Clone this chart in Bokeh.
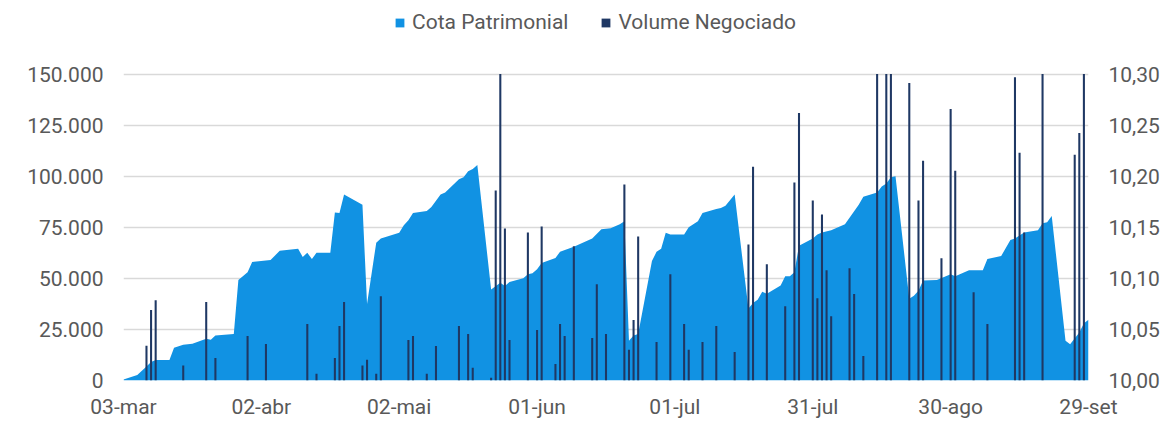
import pandas as pd
from bokeh.plotting import figure
from bokeh.models import Range1d, LinearAxis, FixedTicker, Legend, LegendItem
from bokeh.embed import file_html
from bokeh.resources import INLINE

# ---- data -------------------------------------------------------------
cota_dates = [
    "2020-03-03", "2020-03-06", "2020-03-08", "2020-03-09", "2020-03-10", "2020-03-13",
    "2020-03-14", "2020-03-16", "2020-03-18", "2020-03-21", "2020-03-22", "2020-03-23",
    "2020-03-27", "2020-03-28", "2020-03-30", "2020-03-31", "2020-04-04", "2020-04-06",
    "2020-04-10", "2020-04-11", "2020-04-12", "2020-04-13", "2020-04-14", "2020-04-17",
    "2020-04-18", "2020-04-19", "2020-04-20", "2020-04-24", "2020-04-25", "2020-04-27",
    "2020-04-28", "2020-05-02", "2020-05-03", "2020-05-04", "2020-05-05", "2020-05-08",
    "2020-05-09", "2020-05-11", "2020-05-12", "2020-05-15", "2020-05-16", "2020-05-17",
    "2020-05-18", "2020-05-19", "2020-05-22", "2020-05-24", "2020-05-25", "2020-05-26",
    "2020-05-29", "2020-05-30", "2020-05-31", "2020-06-01", "2020-06-02", "2020-06-05",
    "2020-06-06", "2020-06-09", "2020-06-13", "2020-06-15", "2020-06-16", "2020-06-17",
    "2020-06-19", "2020-06-20", "2020-06-21", "2020-06-22", "2020-06-23", "2020-06-26",
    "2020-06-27", "2020-06-28", "2020-06-29", "2020-06-30", "2020-07-03", "2020-07-04",
    "2020-07-05", "2020-07-06", "2020-07-07", "2020-07-10", "2020-07-11", "2020-07-12",
    "2020-07-14", "2020-07-17", "2020-07-18", "2020-07-19", "2020-07-20", "2020-07-21",
    "2020-07-24", "2020-07-25", "2020-07-26", "2020-07-27", "2020-07-28", "2020-07-31",
    "2020-08-01", "2020-08-02", "2020-08-04", "2020-08-07", "2020-08-10", "2020-08-11",
    "2020-08-14", "2020-08-15", "2020-08-16", "2020-08-17", "2020-08-18", "2020-08-21",
    "2020-08-22", "2020-08-23", "2020-08-24", "2020-08-27", "2020-08-30", "2020-08-31",
    "2020-09-03", "2020-09-06", "2020-09-07", "2020-09-10", "2020-09-12", "2020-09-13",
    "2020-09-15", "2020-09-18", "2020-09-19", "2020-09-20", "2020-09-21", "2020-09-24",
    "2020-09-25", "2020-09-27", "2020-09-28", "2020-09-29",
]
cota_values = [
    10.001, 10.0055, 10.0137, 10.018, 10.020, 10.020,
    10.032, 10.035, 10.036, 10.041, 10.040, 10.044,
    10.0455, 10.0985, 10.106, 10.116, 10.118, 10.127,
    10.129, 10.121, 10.125, 10.119, 10.125, 10.125,
    10.1645, 10.164, 10.182, 10.172, 10.0748, 10.135,
    10.139, 10.1446, 10.152, 10.157, 10.164, 10.166,
    10.170, 10.182, 10.184, 10.197, 10.199, 10.205,
    10.207, 10.211, 10.089, 10.0956, 10.0926, 10.0965,
    10.100, 10.104, 10.105, 10.109, 10.115, 10.120,
    10.126, 10.131, 10.139, 10.148, 10.1485, 10.149,
    10.153, 10.156, 10.039, 10.044, 10.0455, 10.117,
    10.126, 10.129, 10.1446, 10.143, 10.143, 10.150,
    10.153, 10.156, 10.164, 10.168, 10.169, 10.171,
    10.182, 10.0705, 10.076, 10.079, 10.087, 10.085,
    10.093, 10.102, 10.102, 10.106, 10.132, 10.139,
    10.143, 10.145, 10.147, 10.153, 10.172, 10.180,
    10.184, 10.190, 10.193, 10.199, 10.200, 10.080,
    10.083, 10.088, 10.098, 10.0985, 10.104, 10.102,
    10.108, 10.108, 10.119, 10.122, 10.1375, 10.139,
    10.145, 10.147, 10.154, 10.155, 10.161, 10.039,
    10.0355, 10.047, 10.056, 10.0595,
]

vol_dates = [
    "2020-03-08", "2020-03-09", "2020-03-10", "2020-03-16", "2020-03-21", "2020-03-23",
    "2020-03-30", "2020-04-03", "2020-04-12", "2020-04-14", "2020-04-18", "2020-04-19",
    "2020-04-20", "2020-04-24", "2020-04-25", "2020-04-27", "2020-04-28", "2020-05-04",
    "2020-05-05", "2020-05-08", "2020-05-10", "2020-05-15", "2020-05-17", "2020-05-18",
    "2020-05-22", "2020-05-23", "2020-05-24", "2020-05-25", "2020-05-26", "2020-05-30",
    "2020-06-01", "2020-06-02", "2020-06-05", "2020-06-06", "2020-06-07", "2020-06-09",
    "2020-06-13", "2020-06-14", "2020-06-16", "2020-06-20", "2020-06-21", "2020-06-22",
    "2020-06-23", "2020-06-27", "2020-06-30", "2020-07-03", "2020-07-04", "2020-07-07",
    "2020-07-10", "2020-07-14", "2020-07-17", "2020-07-18", "2020-07-21", "2020-07-25",
    "2020-07-27", "2020-07-28", "2020-07-31", "2020-08-01", "2020-08-02", "2020-08-03",
    "2020-08-04", "2020-08-08", "2020-08-09", "2020-08-11", "2020-08-14", "2020-08-16",
    "2020-08-17", "2020-08-21", "2020-08-23", "2020-08-24", "2020-08-28", "2020-08-30",
    "2020-08-31", "2020-09-04", "2020-09-07", "2020-09-13", "2020-09-14", "2020-09-15",
    "2020-09-19", "2020-09-26", "2020-09-27", "2020-09-28",
]
vol_values = [
    17000, 34500, 39300, 7300, 38400, 11000,
    21800, 17900, 27600, 3300, 11000, 26700,
    38400, 7300, 10100, 3300, 41300, 19800,
    21800, 3300, 16900, 26700, 22800, 6200,
    1300, 93000, 160000, 74400, 19800, 72500,
    24700, 75400, 8100, 27600, 21800, 65700,
    20800, 47100, 22800, 95900, 15000, 29600,
    70500, 18900, 52000, 27600, 15000, 18900,
    26700, 14000, 66600, 104700, 56900, 36400,
    96900, 131000, 88100, 40300, 81300, 54000,
    31500, 54900, 42300, 12000, 160000, 160000,
    160000, 145600, 88100, 107600, 59800, 132900,
    102700, 43200, 27600, 148500, 111500, 72500,
    160000, 110500, 121200, 160000,
]

x_tick_dates = ["2020-03-03", "2020-04-02", "2020-05-02", "2020-06-01",
                "2020-07-01", "2020-07-31", "2020-08-30", "2020-09-29"]
x_tick_labels = ["03-mar", "02-abr", "02-mai", "01-jun", "01-jul", "31-jul", "30-ago", "29-set"]
vol_ticks = [0, 25000, 50000, 75000, 100000, 125000, 150000]
vol_tick_labels = ["0", "25.000", "50.000", "75.000", "100.000", "125.000", "150.000"]
cota_ticks = [10.00, 10.05, 10.10, 10.15, 10.20, 10.25, 10.30]
cota_tick_labels = ["10,00", "10,05", "10,10", "10,15", "10,20", "10,25", "10,30"]
series_names = ["Cota Patrimonial", "Volume Negociado"]

# ---- styling / layout -------------------------------------------------
BLUE = "#1192E3"
NAVY = "#1F3864"
GRID = "#D9D9D9"
TEXT = "#595959"
FONT = "Roboto"
FS = "21px"
DAY_MS = 86400000

W, H = 1167, 421
FRAME_LEFT, FRAME_RIGHT, FRAME_BOTTOM = 123, 1088, 382
AXIS_TOP_PX = 74              # pixel row of the top tick (150.000 / 10,30)
FRAME_H = FRAME_BOTTOM        # frame spans from canvas top down to the x axis
scale = FRAME_H / (FRAME_BOTTOM - AXIS_TOP_PX)


def to_ms(s):
    return pd.Timestamp(s).value // 10**6


cota_x = [to_ms(d) for d in cota_dates]
vol_x = [to_ms(d) for d in vol_dates]
xt = [to_ms(d) for d in x_tick_dates]
# the value axis stops at its last tick: taller bars are cut there
vol_shown = [min(v, vol_ticks[-1]) for v in vol_values]

p = figure(width=W, height=H, output_backend="svg", toolbar_location=None,
           x_axis_type="datetime",
           x_range=Range1d(xt[0], xt[-1]),
           y_range=Range1d(vol_ticks[0], vol_ticks[0] + (vol_ticks[-1] - vol_ticks[0]) * scale),
           min_border_left=FRAME_LEFT, min_border_right=W - FRAME_RIGHT,
           min_border_top=0, min_border_bottom=H - FRAME_BOTTOM)
p.extra_y_ranges = {"cota": Range1d(cota_ticks[0],
                                    cota_ticks[0] + (cota_ticks[-1] - cota_ticks[0]) * scale)}
p.outline_line_color = None
p.background_fill_color = "white"
p.border_fill_color = "white"

area = p.varea(x=cota_x, y1=cota_ticks[0], y2=cota_values, y_range_name="cota",
               fill_color=BLUE)
bars = p.vbar(x=vol_x, top=vol_shown, width=0.45 * DAY_MS,
              fill_color=NAVY, line_color=None)

# grid
p.xgrid.visible = False
p.ygrid.ticker = FixedTicker(ticks=vol_ticks)
p.ygrid.grid_line_color = GRID
p.ygrid.grid_line_width = 1.5


def style_axis(ax, standoff):
    ax.axis_line_color = None
    ax.major_tick_line_color = None
    ax.minor_tick_line_color = None
    ax.major_tick_out = 0
    ax.major_tick_in = 0
    ax.minor_tick_out = 0
    ax.minor_tick_in = 0
    ax.major_label_text_font = FONT
    ax.major_label_text_font_size = FS
    ax.major_label_text_color = TEXT
    ax.major_label_standoff = standoff


xa = p.xaxis[0]
xa.ticker = FixedTicker(ticks=xt)
xa.major_label_overrides = {t: l for t, l in zip(xt, x_tick_labels)}
style_axis(xa, 14)

ya = p.yaxis[0]
ya.ticker = FixedTicker(ticks=vol_ticks)
ya.major_label_overrides = {t: l for t, l in zip(vol_ticks, vol_tick_labels)}
style_axis(ya, 20)

ra = LinearAxis(y_range_name="cota", ticker=FixedTicker(ticks=cota_ticks))
ra.major_label_overrides = {t: l for t, l in zip(cota_ticks, cota_tick_labels)}
style_axis(ra, 20)
p.add_layout(ra, "right")

legend = Legend(items=[LegendItem(label=series_names[0], renderers=[area]),
                       LegendItem(label=series_names[1], renderers=[bars])],
                orientation="horizontal", location=(271, 346),
                padding=0, margin=0, spacing=32,
                glyph_width=11, glyph_height=11, label_standoff=7,
                label_text_font=FONT, label_text_font_size=FS,
                label_text_color=TEXT,
                border_line_color=None, background_fill_alpha=0)
p.add_layout(legend)

open("out.html", "w").write(file_html(p, INLINE))
